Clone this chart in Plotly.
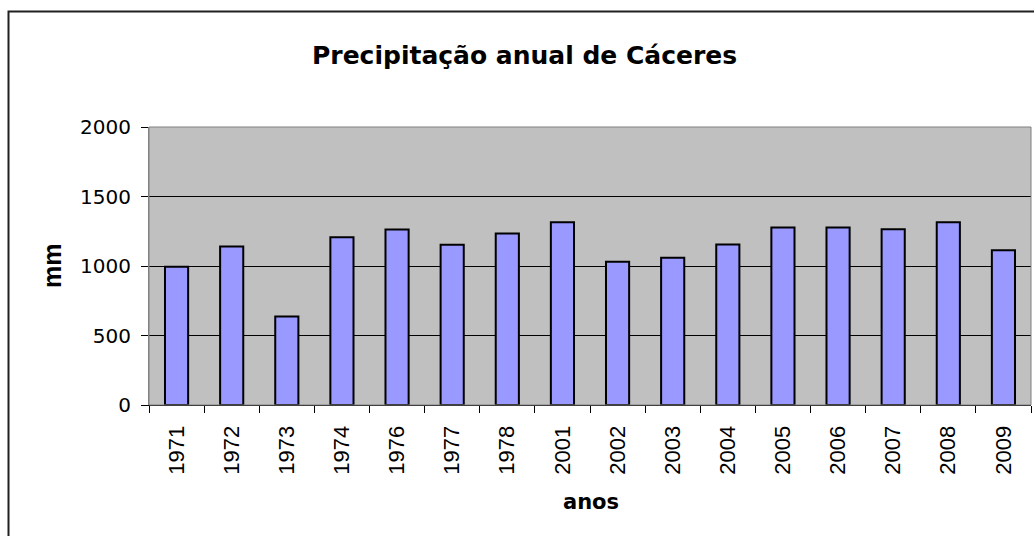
import plotly.graph_objects as go

# Annual rainfall at Cáceres (mm)
anos = ["1971", "1972", "1973", "1974", "1976", "1977", "1978", "2001",
        "2002", "2003", "2004", "2005", "2006", "2007", "2008", "2009"]
precipitacao_mm = [995, 1140, 637, 1207, 1262, 1152, 1233, 1315,
                   1030, 1059, 1154, 1277, 1277, 1265, 1315, 1114]
y_ticks = [0, 500, 1000, 1500, 2000]

titulo = "Precipitação anual de Cáceres"
titulo_x = "anos"
titulo_y = "mm"

# page / plot-area geometry in pixels
W, H = 1034, 536
L, R, T, B = 149, 3, 127, 131
PW, PH = W - L - R, H - T - B


def px_x(px):
    return (px - L) / PW


def px_y(py):
    return (H - B - py) / PH


fig = go.Figure(
    go.Bar(
        x=anos,
        y=precipitacao_mm,
        marker=dict(color="#9999FF", line=dict(color="#000000", width=2)),
        hoverinfo="x+y",
    )
)

fig.update_layout(
    width=W,
    height=H,
    margin=dict(l=L, r=R, t=T, b=B),
    paper_bgcolor="#FFFFFF",
    plot_bgcolor="#C0C0C0",
    bargap=0.58,
    showlegend=False,
    font=dict(family="Liberation Sans, Arial, sans-serif", color="#000000"),
)

fig.update_xaxes(
    type="category",
    tickangle=-90,
    tickson="boundaries",
    ticks="outside",
    ticklen=7,
    tickcolor="#000000",
    tickwidth=1,
    showline=True,
    linecolor="#000000",
    linewidth=1,
    showgrid=False,
    ticklabelstandoff=11,
    tickfont=dict(family="Liberation Sans, Arial, sans-serif", size=22),
)

fig.update_yaxes(
    range=[0, 2000],
    tickvals=y_ticks,
    ticktext=[str(v) for v in y_ticks],
    ticks="outside",
    ticklen=7,
    tickcolor="#000000",
    tickwidth=1,
    showline=True,
    linecolor="#808080",
    linewidth=1,
    showgrid=True,
    gridcolor="#000000",
    gridwidth=1,
    zeroline=False,
    ticklabelstandoff=6,
    tickfont=dict(family="DejaVu Sans, sans-serif", size=20),
)

shapes = [
    # plot-area frame (top and right edges)
    dict(type="rect", xref="paper", yref="paper", x0=0, x1=1, y0=0, y1=1,
         line=dict(color="#808080", width=1), fillcolor="rgba(0,0,0,0)",
         layer="above"),
    # chart-area frame
    dict(type="rect", xref="paper", yref="paper",
         x0=px_x(8.5), x1=px_x(W + 20), y0=px_y(H + 20), y1=px_y(11.5),
         line=dict(color="#202020", width=2), fillcolor="rgba(0,0,0,0)",
         layer="below"),
]

annotations = [
    dict(text=f"<b>{titulo}</b>", xref="paper", yref="paper",
         x=px_x(524), y=px_y(55), xanchor="center", yanchor="middle",
         showarrow=False,
         font=dict(family="DejaVu Sans, sans-serif", size=25, color="#000000")),
    dict(text=f"<b>{titulo_x}</b>", xref="paper", yref="paper",
         x=px_x(591), y=px_y(502), xanchor="center", yanchor="middle",
         showarrow=False,
         font=dict(family="DejaVu Sans, sans-serif", size=21, color="#000000")),
    dict(text=f"<b>{titulo_y}</b>", xref="paper", yref="paper",
         x=px_x(52), y=px_y(266), xanchor="center", yanchor="middle",
         textangle=-90, showarrow=False,
         font=dict(family="Liberation Sans, Arial, sans-serif", size=25,
                   color="#000000")),
]

fig.update_layout(shapes=shapes, annotations=annotations)

fig.write_html("out.html")
